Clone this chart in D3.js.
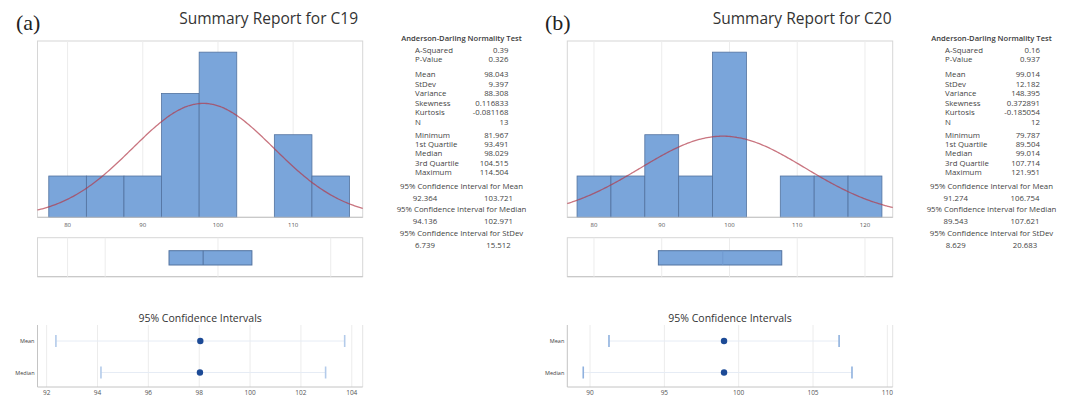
<!DOCTYPE html>
<html><head><meta charset="utf-8">
<script src="https://cdn.jsdelivr.net/npm/d3@7/dist/d3.min.js"></script>
<style>body{margin:0;background:#fff}svg{display:block}text{font-family:"Open Sans","Noto Sans",sans-serif}</style>
</head><body><svg id="c" width="1066" height="397"></svg>
<script>
// ---------- data ----------
const panelLabels = ["(a)", "(b)"];
const titles = ["Summary Report for C19", "Summary Report for C20"];
const binLows = [77.5, 82.5, 87.5, 92.5, 97.5, 102.5, 107.5, 112.5, 117.5];
const binWidth = 5;
const countsA = [1, 1, 1, 3, 4, 0, 2, 1];
const countsB = [1, 1, 2, 1, 4, 0, 1, 1, 1];
const histTicksA = [80, 90, 100, 110];
const histTicksB = [80, 90, 100, 110, 120];
const boxGridA = [80, 85, 100, 115];
const boxGridB = [80, 90, 100, 110, 120];
const ciTicksA = [92, 94, 96, 98, 100, 102, 104];
const ciTicksB = [90, 95, 100, 105, 110];
const ciRows = ["Mean", "Median"];
const statLabels = ["A-Squared","P-Value","Mean","StDev","Variance","Skewness","Kurtosis","N","Minimum","1st Quartile","Median","3rd Quartile","Maximum"];
const statValuesA = ["0.39","0.326","98.043","9.397","88.308","0.116833","-0.081168","13","81.967","93.491","98.029","104.515","114.504"];
const statValuesB = ["0.16","0.937","99.014","12.182","148.395","0.372891","-0.185054","12","79.787","89.504","99.014","107.714","121.951"];
const ciHeaders = ["95% Confidence Interval for Mean","95% Confidence Interval for Median","95% Confidence Interval for StDev"];
const ciValuesA = [["92.364","103.721"],["94.136","102.971"],["6.739","15.512"]];
const ciValuesB = [["91.274","106.754"],["89.543","107.621"],["8.629","20.683"]];
const meanA = 98.043, sdA = 9.397, nA = 13, q1A = 93.491, medA = 98.029, q3A = 104.515;
const meanB = 99.014, sdB = 12.182, nB = 12, q1B = 89.504, medB = 99.014, q3B = 107.714;
const meanCIA = [92.364, 103.721], medCIA = [94.136, 102.971];
const meanCIB = [91.274, 106.754], medCIB = [89.543, 107.621];

// ---------- drawing ----------
const svg = d3.select("#c");
const BAR = "#7aa5da", BAR_STROKE = "#52729f", FRAME = "#d6d6d6", GRID = "#ececec", TXT = "#444";

function panel(o) {
  const g = svg.append("g");
  g.append("text").attr("x", o.labX).attr("y", 30)
    .style("font-family", "'Liberation Serif','DejaVu Serif',serif").attr("font-size", 22).attr("fill", "#222").text(o.label);
  g.append("text").attr("x", o.titleX).attr("y", 24).attr("text-anchor", "end").attr("font-size", 15.5)
    .attr("font-weight", 500).attr("fill", "#333").text(o.title);

  // histogram
  const x = d3.scaleLinear().domain(o.hDom).range([o.L, o.R]);
  const y = d3.scaleLinear().domain([0, 4.27]).range([217.3, 41]);
  g.append("rect").attr("x", o.L).attr("y", 41).attr("width", o.R - o.L).attr("height", 217.3 - 41)
    .attr("fill", "none").attr("stroke", FRAME);
  g.selectAll(".hg").data(o.hTicks).join("line").attr("x1", d => x(d)).attr("x2", d => x(d))
    .attr("y1", 41).attr("y2", 217.3).attr("stroke", GRID);
  const bins = o.counts.map((c, i) => ({lo: binLows[i], c})).filter(d => d.c > 0);
  g.selectAll(".bar").data(bins).join("rect")
    .attr("x", d => x(d.lo)).attr("width", d => x(d.lo + binWidth) - x(d.lo))
    .attr("y", d => y(d.c)).attr("height", d => y(0) - y(d.c))
    .attr("fill", BAR).attr("stroke", BAR_STROKE).attr("stroke-width", 0.8);
  const xs = d3.range(0, 201).map(i => o.hDom[0] + (o.hDom[1] - o.hDom[0]) * i / 200);
  const scale = o.n * binWidth / (o.sd * Math.sqrt(2 * Math.PI));
  const line = d3.line().x(d => x(d)).y(d => y(scale * Math.exp(-0.5 * ((d - o.mean) / o.sd) ** 2))).curve(d3.curveBasis);
  g.append("path").attr("d", line(xs)).attr("fill", "none").attr("stroke", "#b23a4a").attr("stroke-opacity", 0.7).attr("stroke-width", 1.3);
  g.append("line").attr("x1", o.L).attr("x2", o.R).attr("y1", 217.3).attr("y2", 217.3).attr("stroke", "#c4c4c4");
  g.append("g").selectAll("text").data(o.hTicks).join("text").attr("x", d => x(d)).attr("y", 226.5)
    .attr("text-anchor", "middle").attr("font-size", 6).attr("fill", "#555").text(d => d);

  // boxplot
  g.append("rect").attr("x", o.L).attr("y", 237.7).attr("width", o.R - o.L).attr("height", 39)
    .attr("fill", "none").attr("stroke", FRAME);
  g.append("line").attr("x1", o.L).attr("x2", o.R).attr("y1", 276.7).attr("y2", 276.7).attr("stroke", "#c4c4c4");
  g.selectAll(".bg").data(o.boxGrid).join("line").attr("x1", d => x(d)).attr("x2", d => x(d))
    .attr("y1", 237.7).attr("y2", 276.7).attr("stroke", GRID);
  g.append("rect").attr("x", x(o.q1)).attr("width", x(o.q3) - x(o.q1)).attr("y", 250.7).attr("height", 14.3)
    .attr("fill", BAR).attr("stroke", BAR_STROKE).attr("stroke-width", 1);
  g.append("line").attr("x1", x(o.med)).attr("x2", x(o.med)).attr("y1", 250.7).attr("y2", 265)
    .attr("stroke", o.medStroke).attr("stroke-width", 1);

  // CI plot
  const cx = d3.scaleLinear().domain(o.cDom).range([o.L, o.R]);
  const cy = d3.scalePoint().domain(ciRows).range([341, 372.5]);
  g.append("text").attr("x", (o.L + o.R) / 2).attr("y", 322).attr("text-anchor", "middle").attr("font-size", 10.5)
    .attr("fill", "#333").text("95% Confidence Intervals");
  g.selectAll(".cg").data(o.cTicks).join("line").attr("x1", d => cx(d)).attr("x2", d => cx(d))
    .attr("y1", 325).attr("y2", 387).attr("stroke", GRID);
  g.append("line").attr("x1", o.R).attr("x2", o.R).attr("y1", 325).attr("y2", 387).attr("stroke", "#e4e4e4");
  g.append("line").attr("x1", o.L).attr("x2", o.L).attr("y1", 325).attr("y2", 387).attr("stroke", "#c4c4c4");
  g.append("line").attr("x1", o.L).attr("x2", o.R).attr("y1", 387).attr("y2", 387).attr("stroke", "#c4c4c4");
  g.selectAll(".ctl").data(o.cTicks).join("text").attr("x", d => cx(d)).attr("y", 395.3)
    .attr("text-anchor", "middle").attr("font-size", 6.5).attr("fill", "#555").text(d => d);
  g.selectAll(".rl").data(ciRows).join("text").attr("x", o.L - 3).attr("y", d => cy(d) + 2)
    .attr("text-anchor", "end").attr("font-size", 5.5).attr("fill", "#444").text(d => d);
  const ivs = [{r: "Mean", ci: o.meanCI, c: o.mean}, {r: "Median", ci: o.medCI, c: o.med}];
  ivs.forEach(d => {
    g.append("line").attr("x1", cx(d.ci[0])).attr("x2", cx(d.ci[1])).attr("y1", cy(d.r)).attr("y2", cy(d.r))
      .attr("stroke", "#e6ecf5").attr("stroke-width", 1);
    d.ci.forEach(v => g.append("line").attr("x1", cx(v)).attr("x2", cx(v)).attr("y1", cy(d.r) - 6).attr("y2", cy(d.r) + 6)
      .attr("stroke", o.capColor).attr("stroke-width", 1.6));
    g.append("circle").attr("cx", cx(d.c)).attr("cy", cy(d.r)).attr("r", 3.2).attr("fill", "#1c4a96");
  });

  // stats table
  const FS = 7.8;
  const rowY = [50, 59.5, 74.3, 83.8, 93.3, 102.8, 112.3, 121.8, 135, 144.3, 153.6, 162.9, 172.2];
  g.append("text").attr("x", o.sC).attr("y", 41).attr("text-anchor", "middle").attr("font-size", 7.6)
    .attr("font-weight", 600).attr("fill", "#3a3a3a").text("Anderson-Darling Normality Test");
  statLabels.forEach((l, i) => {
    g.append("text").attr("x", o.sL).attr("y", rowY[i] + 2.7).attr("font-size", FS).attr("fill", TXT).text(l);
    g.append("text").attr("x", o.sR).attr("y", rowY[i] + 2.7).attr("text-anchor", "end").attr("font-size", FS).attr("fill", TXT).text(o.stats[i]);
  });
  const ciY = [186.5, 209.7, 233.3];
  ciHeaders.forEach((h, i) => {
    g.append("text").attr("x", o.sC).attr("y", ciY[i] + 2.7).attr("text-anchor", "middle").attr("font-size", FS).attr("fill", TXT).text(h);
    o.ci[i].forEach((v, j) => g.append("text").attr("x", o.ciX[j]).attr("y", ciY[i] + 11.8 + 2.7)
      .attr("text-anchor", "middle").attr("font-size", FS).attr("fill", TXT).text(v));
  });
}

panel({label: panelLabels[0], labX: 16, title: titles[0], titleX: 358, L: 37.5, R: 362.7,
  hDom: [76, 119.25], counts: countsA, hTicks: histTicksA, boxGrid: boxGridA, mean: meanA, sd: sdA, n: nA,
  q1: q1A, med: medA, q3: q3A, medStroke: BAR_STROKE, cDom: [91.64, 104.43], cTicks: ciTicksA,
  meanCI: meanCIA, medCI: medCIA, capColor: "#b3cbea",
  sC: 461.5, sL: 415, sR: 508.5, stats: statValuesA, ci: ciValuesA, ciX: [425, 498.5]});
panel({label: panelLabels[1], labX: 545, title: titles[1], titleX: 891.5, L: 567.3, R: 892.7,
  hDom: [76.06, 124.09], counts: countsB, hTicks: histTicksB, boxGrid: boxGridB, mean: meanB, sd: sdB, n: nB,
  q1: q1B, med: medB, q3: q3B, medStroke: "#7199cf", cDom: [88.47, 110.36], cTicks: ciTicksB,
  meanCI: meanCIB, medCI: medCIB, capColor: "#8fb1de",
  sC: 991.5, sL: 945, sR: 1040, stats: statValuesB, ci: ciValuesB, ciX: [955.7, 1025]});
</script></body></html>
